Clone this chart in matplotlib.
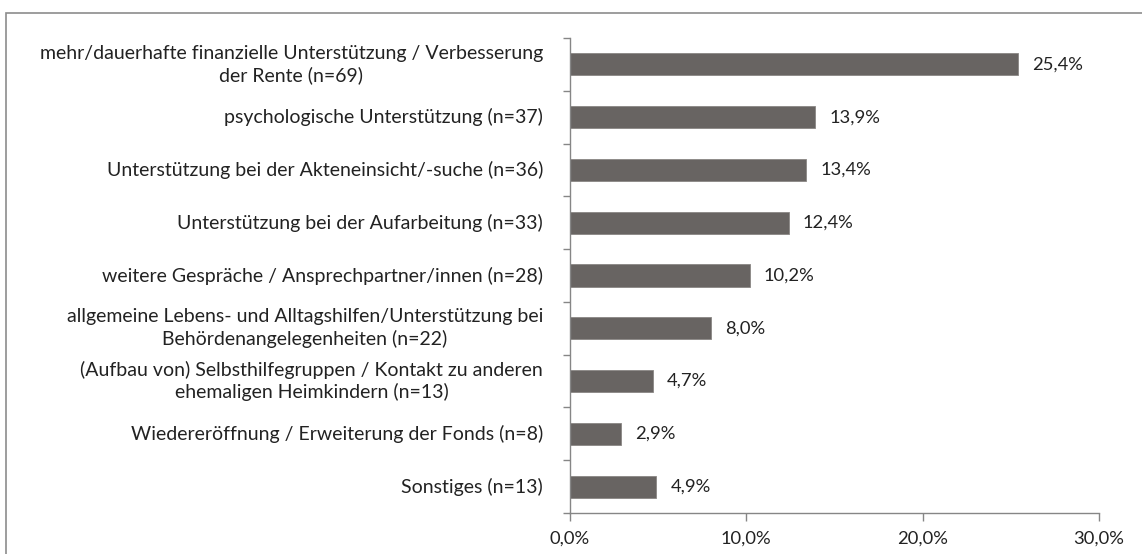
import matplotlib.pyplot as plt
from matplotlib.patches import Rectangle

# Data (top to bottom as shown)
categories = [
    'mehr/dauerhafte finanzielle Unterstützung / Verbesserung\nder Rente (n=69)',
    'psychologische Unterstützung (n=37)',
    'Unterstützung bei der Akteneinsicht/-suche (n=36)',
    'Unterstützung bei der Aufarbeitung (n=33)',
    'weitere Gespräche / Ansprechpartner/innen (n=28)',
    'allgemeine Lebens- und Alltagshilfen/Unterstützung bei\nBehördenangelegenheiten (n=22)',
    '(Aufbau von) Selbsthilfegruppen / Kontakt zu anderen\nehemaligen Heimkindern (n=13)',
    'Wiedereröffnung / Erweiterung der Fonds (n=8)',
    'Sonstiges (n=13)',
]
values = [25.4, 13.9, 13.4, 12.4, 10.2, 8.0, 4.7, 2.9, 4.9]
xticks = [0, 10, 20, 30]

plt.rcParams['font.family'] = ['Lato', 'DejaVu Sans']

fig = plt.figure(figsize=(11.42, 5.54), dpi=100)
ax = fig.add_axes([570 / 1142, 1 - 513 / 554, (1099 - 570) / 1142, (513 - 38) / 554])

# outer chart border (cropped at right/bottom)
fig.patches.append(Rectangle((6 / 1142, -0.1), 1.1, 1 - 13 / 554 + 0.1,
                             transform=fig.transFigure, fill=False,
                             edgecolor='#8c8c8c', linewidth=1.2))

# pick font sizes so text widths match the original (Calibri-like) widths
r = fig.canvas.get_renderer()
t = fig.text(0, 0, categories[1], fontsize=10)
lab_fs = 10 * 319 / t.get_window_extent(r).width
t.set_text('25,4%')
num_fs = 10 * 51 / t.get_window_extent(r).width
t.remove()

ypos = list(range(len(categories)))
ax.barh(ypos, values, height=0.42, color='#686462', edgecolor='#8a8684', linewidth=0.6)
ax.set_ylim(len(categories) - 0.5, -0.5)
ax.set_xlim(0, 30)

for y, v in zip(ypos, values):
    ax.text(v + 0.8, y, f'{v:.1f}%'.replace('.', ','), va='center', ha='left',
            fontsize=num_fs, color='#222222')

# category labels (centered multi-line, right edge next to the axis)
ax.set_yticks([])
for y, lab in zip(ypos, categories):
    ax.text(-27 / 529, y, lab, transform=ax.get_yaxis_transform(), ha='right',
            va='center', multialignment='center', linespacing=1.3,
            fontsize=lab_fs, color='#222222')
# ticks at category boundaries
ax.set_yticks([i - 0.5 for i in range(len(categories) + 1)], minor=True)
ax.tick_params(axis='y', which='minor', length=5, color='#868686', width=1)

ax.set_xticks(xticks)
ax.set_xticklabels([f'{t:.1f}%'.replace('.', ',') for t in xticks], fontsize=num_fs, color='#222222')
ax.tick_params(axis='x', length=6, color='#868686', width=1, pad=7)

for s in ['top', 'right']:
    ax.spines[s].set_visible(False)
for s in ['left', 'bottom']:
    ax.spines[s].set_color('#868686')
    ax.spines[s].set_linewidth(1)

fig.savefig('out.png', dpi=100)
